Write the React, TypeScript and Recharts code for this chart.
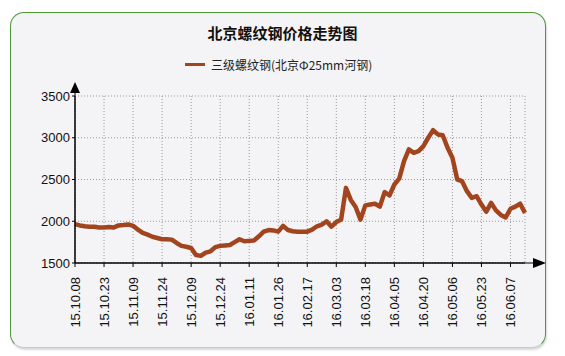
import { LineChart, Line, XAxis, YAxis, CartesianGrid } from "recharts";

// tick labels, one every STEP points
const tickLabels = [
  "15.10.08", "15.10.23", "15.11.09", "15.11.24", "15.12.09", "15.12.24",
  "16.01.11", "16.01.26", "16.02.17", "16.03.03", "16.03.18", "16.04.05",
  "16.04.20", "16.05.06", "16.05.23", "16.06.07",
];
const STEP = 6;

// price series (元/吨)
const prices = [
  1965, 1950, 1940, 1935, 1935, 1925, 1925, 1930, 1925, 1950,
  1955, 1962, 1945, 1900, 1860, 1840, 1815, 1800, 1785, 1785,
  1780, 1740, 1705, 1695, 1680, 1595, 1585, 1625, 1640, 1690,
  1705, 1710, 1715, 1750, 1785, 1760, 1765, 1770, 1820, 1875,
  1895, 1890, 1875, 1945, 1895, 1880, 1875, 1875, 1875, 1900,
  1940, 1960, 2000, 1935, 1990, 2020, 2400, 2255, 2170, 2020,
  2190, 2200, 2210, 2175, 2350, 2310, 2440, 2510, 2720, 2860,
  2820, 2840, 2900, 3000, 3090, 3040, 3030, 2880, 2760, 2500,
  2480, 2360, 2280, 2300, 2200, 2115, 2220, 2130, 2075, 2045,
  2150, 2175, 2210, 2100,
];

const yTicks = [1500, 2000, 2500, 3000, 3500];
const seriesName = "三级螺纹钢(北京Φ25mm河钢)";
const title = "北京螺纹钢价格走势图";

const data = prices.map((p, i) => ({ i, price: p }));
const xTicks = tickLabels.map((_, k) => k * STEP);

const W = 565;
const H = 356;
const M = { top: 96, right: 40, bottom: 33, left: 15 };
const Y_AXIS_W = 60;
const X_AXIS_H = 60;
const PLOT_LEFT = M.left + Y_AXIS_W;
const PLOT_BOTTOM = H - M.bottom - X_AXIS_H;
const LINE_COLOR = "#a2451e";
const FONT = "Arial, 'Liberation Sans', sans-serif";

const XTick = (props: any) => {
  const { x, y, payload } = props;
  const label = tickLabels[Math.round(payload.value / STEP)] ?? "";
  const ty = y + 8;
  return (
    <text
      x={x}
      y={ty}
      transform={`rotate(-90, ${x}, ${ty})`}
      textAnchor="end"
      dy="0.35em"
      fontSize={13}
      fontFamily={FONT}
      fill="#111"
    >
      {label}
    </text>
  );
};

export default function App() {
  return (
    <div
      style={{
        position: "absolute",
        left: 0,
        top: 0,
        width: W,
        height: H,
        background: "#fff",
        overflow: "hidden",
      }}
    >
      <div
        style={{
          position: "absolute",
          left: 10,
          top: 12,
          width: 534,
          height: 334,
          border: "1.5px solid #4c9a3c",
          borderBottomColor: "#c8c8c8",
          borderRadius: 14,
          background: "#f4f4f6",
          boxShadow: "1px 2px 2px rgba(0,0,0,0.15)",
        }}
      />
      <div
        style={{
          position: "absolute",
          left: 0,
          top: 22,
          width: W,
          textAlign: "center",
          fontFamily: "'Noto Sans CJK SC', sans-serif",
          fontWeight: "bold",
          fontSize: 15,
          color: "#111",
        }}
      >
        {title}
      </div>
      <div
        style={{
          position: "absolute",
          left: 185,
          top: 56,
          display: "flex",
          alignItems: "center",
          fontFamily: "'Noto Sans CJK SC', sans-serif",
          fontSize: 12,
          color: "#222",
        }}
      >
        <span
          style={{
            display: "inline-block",
            width: 20,
            height: 3,
            background: LINE_COLOR,
            marginRight: 6,
          }}
        />
        {seriesName}
      </div>
      <div style={{ position: "absolute", left: 0, top: 0 }}>
        <LineChart width={W} height={H} data={data} margin={M}>
          <CartesianGrid stroke="#999" strokeDasharray="1 2" />
          <XAxis
            dataKey="i"
            type="number"
            domain={[0, prices.length - 1]}
            ticks={xTicks}
            interval={0}
            height={X_AXIS_H}
            tick={<XTick />}
            tickSize={4}
            axisLine={{ stroke: "#000" }}
            tickLine={{ stroke: "#000" }}
          />
          <YAxis
            domain={[1500, 3500]}
            ticks={yTicks}
            width={Y_AXIS_W}
            interval={0}
            tickSize={3}
            axisLine={{ stroke: "#000" }}
            tickLine={{ stroke: "#000" }}
            tick={{ fontSize: 13, fontFamily: FONT, fill: "#111" }}
          />
          <Line
            dataKey="price"
            stroke={LINE_COLOR}
            strokeWidth={4.5}
            dot={false}
            type="linear"
            strokeLinejoin="round"
            isAnimationActive={false}
          />
        </LineChart>
      </div>
      {/* axis arrows */}
      <svg
        width={W}
        height={H}
        style={{ position: "absolute", left: 0, top: 0, pointerEvents: "none" }}
      >
        <line x1={PLOT_LEFT} y1={PLOT_BOTTOM} x2={535} y2={PLOT_BOTTOM} stroke="#000" />
        <polygon
          points={`${546},${PLOT_BOTTOM} ${533},${PLOT_BOTTOM - 5} ${533},${PLOT_BOTTOM + 5}`}
          fill="#000"
        />
        <line x1={PLOT_LEFT} y1={PLOT_BOTTOM} x2={PLOT_LEFT} y2={90} stroke="#000" />
        <polygon
          points={`${PLOT_LEFT},${82} ${PLOT_LEFT - 5},${93} ${PLOT_LEFT + 5},${93}`}
          fill="#000"
        />
      </svg>
    </div>
  );
}
